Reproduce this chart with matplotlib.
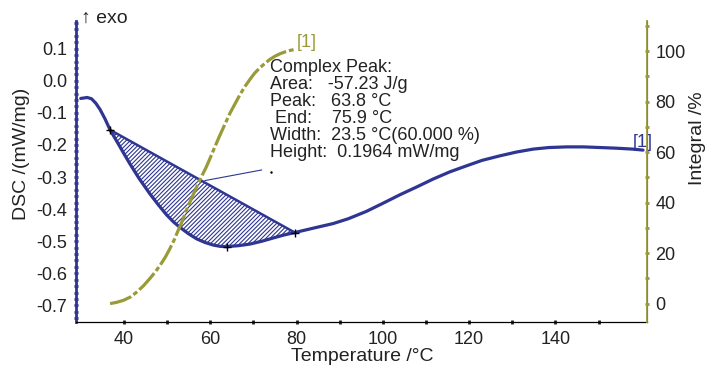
import matplotlib
matplotlib.use("Agg")
import matplotlib.pyplot as plt
from matplotlib.ticker import MultipleLocator, FormatStrFormatter

plt.rcParams['font.family'] = ['Liberation Sans', 'DejaVu Sans']
plt.rcParams['axes.unicode_minus'] = False
plt.rcParams['hatch.linewidth'] = 0.8

# --- data ---
# DSC curve: temperature (°C), signal (mW/mg)
dsc_T = [30.0, 31.5, 32.5, 33.5, 34.5, 35.6, 36.8, 38.5, 40.0, 41.4, 43.5, 46.0,
         48.0, 49.9, 51.5, 53.0, 55.0, 56.9, 58.8, 60.7, 62.3, 63.8, 66.5, 69.2,
         72.0, 74.6, 77.0, 79.6, 84.0, 88.5, 92.0, 96.2, 100.0, 104.0, 108.0,
         111.7, 115.5, 119.4, 123.0, 127.1, 131.0, 134.8, 138.5, 142.6, 146.5,
         150.3, 154.0, 158.0, 160.3]
dsc_V = [-0.055, -0.052, -0.056, -0.070, -0.090, -0.118, -0.153, -0.192, -0.227,
         -0.259, -0.304, -0.352, -0.387, -0.418, -0.440, -0.457, -0.477, -0.493,
         -0.504, -0.512, -0.516, -0.517, -0.514, -0.509, -0.500, -0.490, -0.481,
         -0.473, -0.459, -0.445, -0.430, -0.407, -0.382, -0.355, -0.330, -0.306,
         -0.284, -0.265, -0.248, -0.234, -0.222, -0.213, -0.208, -0.206, -0.206,
         -0.208, -0.210, -0.213, -0.216]

# integral curve: temperature (°C), integral (%)
int_T = [36.8, 38.3, 39.9, 41.5, 43.0, 44.5, 46.0, 47.2, 48.4, 49.6, 50.7, 51.7,
         52.6, 53.6, 54.5, 55.7, 56.9, 58.0, 59.0, 59.9, 61.1, 62.3, 63.5, 64.6,
         65.8, 66.9, 68.0, 69.2, 70.3, 71.5, 72.7, 73.8, 75.0, 76.2, 77.3, 78.5,
         79.6]
int_V = [0.0, 0.5, 1.3, 2.6, 4.6, 7.0, 9.9, 12.4, 15.2, 18.4, 21.9, 25.4,
         29.1, 33.0, 37.1, 41.8, 46.4, 50.4, 53.8, 57.3, 62.2, 66.9, 71.4, 75.5,
         79.3, 82.8, 85.9, 88.8, 91.3, 93.4, 95.2, 96.7, 98.0, 99.0, 99.7, 100.3,
         100.7]

# peak evaluation points: start, peak, end
peak_T = [36.8, 63.8, 79.6]
peak_V = [-0.153, -0.517, -0.473]

x_major = [40, 60, 80, 100, 120, 140]
x_minor = [50, 70, 90, 110, 130, 150]

annot = ("Complex Peak:\n"
         "Area:   -57.23 J/g\n"
         "Peak:   63.8 °C\n"
         " End:    75.9 °C\n"
         "Width:  23.5 °C(60.000 %)\n"
         "Height:  0.1964 mW/mg")

blue = '#2e3592'
olive = '#9a9a38'
txt = '#222222'

fig = plt.figure(figsize=(7.07, 3.71), dpi=100)
ax = fig.add_axes([0.1075, 0.132, 0.8075, 0.811])
ax2 = ax.twinx()

# DSC curve
ax.plot(dsc_T, dsc_V, color=blue, lw=2.3, zorder=4, solid_capstyle='round',
        solid_joinstyle='round')

# hatched peak area: curve between start and end, closed by the straight baseline
i0 = dsc_T.index(peak_T[0])
i1 = dsc_T.index(peak_T[2])
ax.fill(dsc_T[i0:i1 + 1], dsc_V[i0:i1 + 1], facecolor='none', edgecolor=blue,
        hatch='////////', lw=0, zorder=2)
ax.plot([peak_T[0], peak_T[2]], [peak_V[0], peak_V[2]], color=blue, lw=1.8, zorder=3)
ax.plot(peak_T, peak_V, '+', color='black', ms=6, mew=1, zorder=5)

# leader line to the annotation
ax.plot([58.8, 71.9], [-0.311, -0.278], color=blue, lw=0.8, zorder=5)
ax.plot([74.2], [-0.283], '.', color='black', ms=1.5)

ax.text(157.9, -0.193, "[1]", color=blue, fontsize=13, va='center', ha='left',
        clip_on=False, zorder=6)
ax.text(0.34, 0.874, annot, transform=ax.transAxes, fontsize=13, va='top',
        ha='left', linespacing=1.0, color=txt)

# integral curve
ax2.plot(int_T, int_V, color=olive, lw=2.3, dashes=(7, 0.9, 1.5, 0.9),
         dash_joinstyle='round')
ax2.text(80.0, 100.0, "[1]", color=olive, fontsize=13, va='bottom', ha='left')

# axes limits
ax.set_xlim(28.9, 161.2)
ax.set_ylim(-0.752, 0.186)
ax2.set_ylim(-7.3, 111.9)

# spines
for a in (ax, ax2):
    a.spines['top'].set_visible(False)
ax.spines['left'].set_color(blue)
ax.spines['left'].set_linewidth(2.0)
ax.spines['bottom'].set_linewidth(0.9)
ax2.spines['left'].set_visible(False)
ax2.spines['bottom'].set_visible(False)
ax2.spines['right'].set_color(olive)
ax2.spines['right'].set_linewidth(1.3)

# ticks
ax.set_xticks(x_major)
ax.set_xticks(x_minor, minor=True)
ax.yaxis.set_major_locator(MultipleLocator(0.1))
ax.yaxis.set_minor_locator(MultipleLocator(0.02))
ax.yaxis.set_major_formatter(FormatStrFormatter('%.1f'))
ax2.yaxis.set_major_locator(MultipleLocator(20))
ax2.yaxis.set_minor_locator(MultipleLocator(10))

ax.tick_params(axis='x', which='both', direction='inout', length=2.5, width=2,
               color=txt, labelsize=13, pad=5)
ax.tick_params(axis='y', which='both', direction='inout', length=2.5, width=2,
               color=blue, labelsize=13, pad=5)
ax2.tick_params(axis='y', which='both', direction='inout', length=2.5, width=2,
                color=olive, labelsize=13, pad=5)
for a in (ax, ax2):
    for lbl in a.get_xticklabels() + a.get_yticklabels():
        lbl.set_color(txt)

# axis titles
fig.text(0.512, 0.040, "Temperature /°C", fontsize=14, ha='center', va='center',
         color=txt)
fig.text(0.03, 0.586, "DSC /(mW/mg)", fontsize=14, rotation=90, ha='center',
         va='center', color=txt)
fig.text(0.987, 0.628, "Integral /%", fontsize=14, rotation=90, ha='center',
         va='center', color=txt)
fig.text(0.115, 0.951, "↑ exo", fontsize=14, ha='left', va='center', color=txt)

fig.savefig("out.png", dpi=100)
